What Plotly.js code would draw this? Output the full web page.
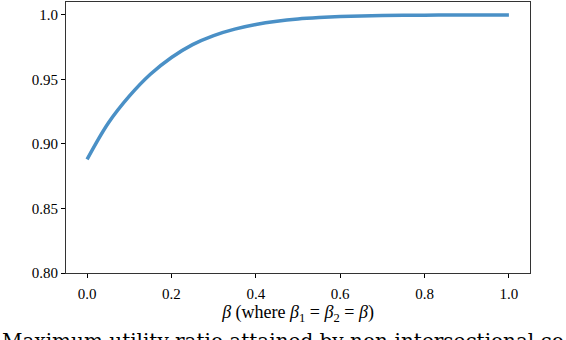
<!DOCTYPE html>
<html>
<head>
<meta charset="utf-8">
<script src="https://cdn.plot.ly/plotly-3.0.1.min.js"></script>
<style>
  html, body { margin: 0; padding: 0; background: #fff; }
  #graph { width: 566px; height: 340px; }
</style>
</head>
<body>
<div id="graph"></div>
<script>
// beta values (beta1 = beta2 = beta)
const betaValues = [0.0, 0.05, 0.1, 0.15, 0.2, 0.25, 0.3, 0.35, 0.4, 0.45, 0.5,
                    0.55, 0.6, 0.65, 0.7, 0.75, 0.8, 0.85, 0.9, 0.95, 1.0];
// max utility ratio
const ratioValues = [0.888, 0.916, 0.937, 0.954, 0.967, 0.977, 0.984, 0.989, 0.9926, 0.9951, 0.9968,
                     0.9979, 0.9987, 0.9992, 0.9995, 0.9997, 0.9998, 0.9999, 1.0, 1.0, 1.0];

const xTicks = [0, 0.2, 0.4, 0.6, 0.8, 1.0];
const xTickText = ['0.0', '0.2', '0.4', '0.6', '0.8', '1.0'];
const yTicks = [0.80, 0.85, 0.90, 0.95, 1.0];
const yTickText = ['0.80', '0.85', '0.90', '0.95', '1.0'];

// caption of the figure, cut off by the bottom edge
const captionText = 'Maximum utility ratio attained by non-intersectional co';

const serif = '"Liberation Serif", "DejaVu Serif", serif';

var trace = {
    x: betaValues,
    y: ratioValues,
    type: 'scatter',
    mode: 'lines',
    line: { color: '#4a90c6', width: 3.5, shape: 'spline', smoothing: 1 },
    hoverinfo: 'skip'
};

var layout = {
    width: 566,
    height: 340,
    margin: { l: 66, r: 36, t: 2, b: 67 },
    paper_bgcolor: '#fff',
    plot_bgcolor: '#fff',
    showlegend: false,
    font: { family: serif, color: '#000', size: 15 },
    xaxis: {
        range: [-0.05, 1.05],
        tickvals: xTicks,
        ticktext: xTickText,
        ticks: 'outside', ticklen: 4, tickwidth: 1, tickcolor: '#000',
        ticklabelstandoff: 3,
        showgrid: false, zeroline: false,
        showline: true, mirror: true, linecolor: '#333', linewidth: 1,
        tickfont: { family: serif, size: 15 },
        title: {
            text: '<i>β</i> (where <i>β</i><sub>1</sub> = <i>β</i><sub>2</sub> = <i>β</i>)',
            font: { family: serif, size: 18 },
            standoff: 2
        }
    },
    yaxis: {
        range: [0.80, 1.01],
        tickvals: yTicks,
        ticktext: yTickText,
        ticks: 'outside', ticklen: 4, tickwidth: 1, tickcolor: '#000',
        showgrid: false, zeroline: false,
        showline: true, mirror: true, linecolor: '#333', linewidth: 1,
        tickfont: { family: serif, size: 15 }
    },
    annotations: [{
        text: captionText,
        xref: 'paper', yref: 'paper',
        x: -0.1422, y: -0.198,
        xanchor: 'left', yanchor: 'top',
        showarrow: false,
        font: { family: '"DejaVu Serif", serif', size: 20, color: '#000' }
    }]
};

Plotly.newPlot('graph', [trace], layout, { displayModeBar: false, staticPlot: true });
</script>
</body>
</html>
